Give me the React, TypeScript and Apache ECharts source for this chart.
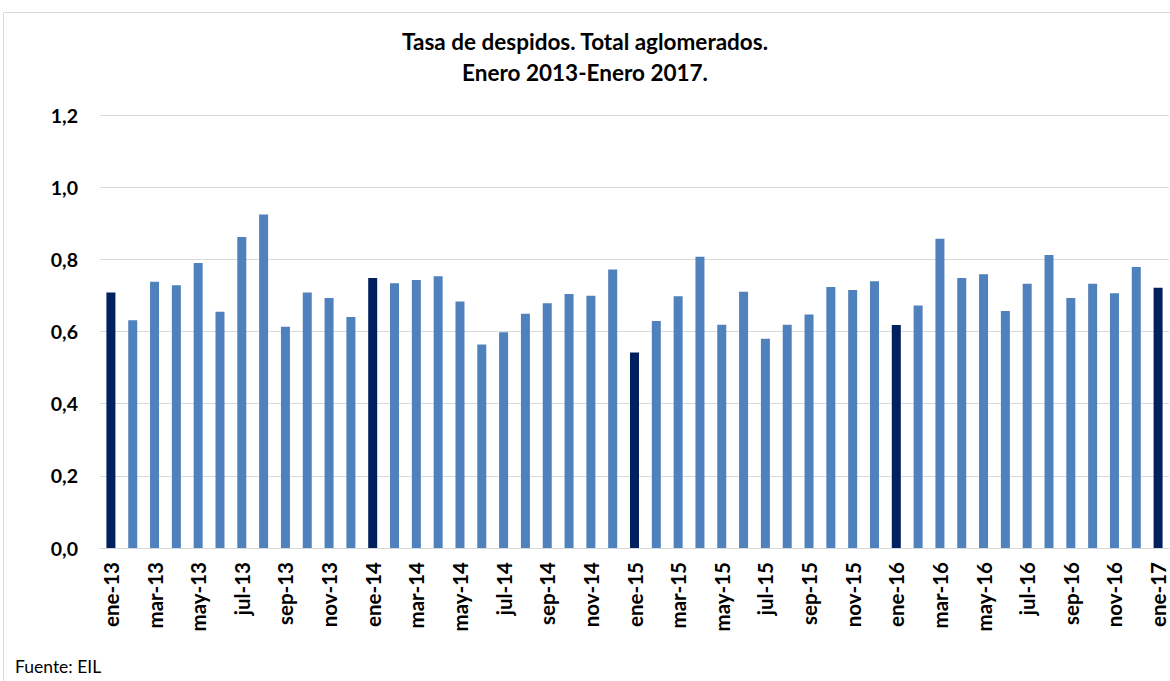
import React, { useEffect, useRef } from "react";
import * as echarts from "echarts";

const months = ["ene", "feb", "mar", "abr", "may", "jun", "jul", "ago", "sep", "oct", "nov", "dic"];
const years = ["13", "14", "15", "16", "17"];
const categories: string[] = [];
years.forEach((y) => months.forEach((m) => categories.push(`${m}-${y}`)));
categories.splice(49);

const values = [
  0.708, 0.631, 0.738, 0.728, 0.79, 0.655, 0.862, 0.924, 0.613, 0.708, 0.693, 0.64,
  0.748, 0.734, 0.743, 0.753, 0.683, 0.564, 0.598, 0.649, 0.678, 0.704, 0.699, 0.772,
  0.542, 0.629, 0.698, 0.807, 0.619, 0.71, 0.58, 0.619, 0.647, 0.723, 0.715, 0.739,
  0.618, 0.672, 0.857, 0.748, 0.759, 0.657, 0.732, 0.812, 0.693, 0.732, 0.706, 0.779,
  0.721,
];

const yTicks = [0, 0.2, 0.4, 0.6, 0.8, 1.0, 1.2];

const LIGHT = "#4F81BD";
const DARK = "#002060";
const FONT = "Lato, 'Liberation Sans', sans-serif";

export default function App() {
  const ref = useRef<HTMLDivElement>(null);
  useEffect(() => {
    if (!ref.current) return;
    const chart = echarts.init(ref.current, undefined, { renderer: "svg" });
    chart.setOption({
      animation: false,
      backgroundColor: "#ffffff",
      textStyle: { fontFamily: FONT },
      title: {
        text: "Tasa de despidos. Total aglomerados.\nEnero 2013-Enero 2017.",
        left: "center",
        top: 21,
        textStyle: { fontSize: 22.5, fontWeight: "bold", color: "#000", lineHeight: 31, fontFamily: FONT },
      },
      graphic: [
        {
          type: "rect",
          shape: { x: 3.5, y: 12.5, width: 1180, height: 700 },
          style: { fill: "none", stroke: "#D9D9D9", lineWidth: 1 },
          silent: true,
        },
        {
          type: "text",
          left: 15,
          top: 657,
          style: { text: "Fuente: EIL", fontSize: 17.5, fill: "#000", fontFamily: FONT },
        },
      ],
      grid: { left: 100, right: 1, top: 115, bottom: 133, containLabel: false },
      xAxis: {
        type: "category",
        data: categories,
        axisTick: { show: false },
        axisLine: { lineStyle: { color: "#D9D9D9" } },
        axisLabel: {
          interval: 1,
          rotate: 90,
          margin: 14,
          fontSize: 20.5,
          fontWeight: "bold",
          color: "#000",
          fontFamily: FONT,
        },
      },
      yAxis: {
        type: "value",
        min: yTicks[0],
        max: yTicks[yTicks.length - 1],
        interval: 0.2,
        axisLine: { show: false },
        axisTick: { show: false },
        splitLine: { lineStyle: { color: "#D9D9D9" } },
        axisLabel: {
          margin: 22,
          fontSize: 19.5,
          fontWeight: "bold",
          color: "#000",
          fontFamily: FONT,
          formatter: (v: number) => v.toFixed(1).replace(".", ","),
        },
      },
      series: [
        {
          type: "bar",
          barWidth: 9,
          data: values.map((v, i) => ({
            value: v,
            itemStyle: { color: categories[i].startsWith("ene") ? DARK : LIGHT },
          })),
        },
      ],
    });
    return () => chart.dispose();
  }, []);
  return <div ref={ref} style={{ width: 1170, height: 681, position: "absolute", left: 0, top: 0 }} />;
}
